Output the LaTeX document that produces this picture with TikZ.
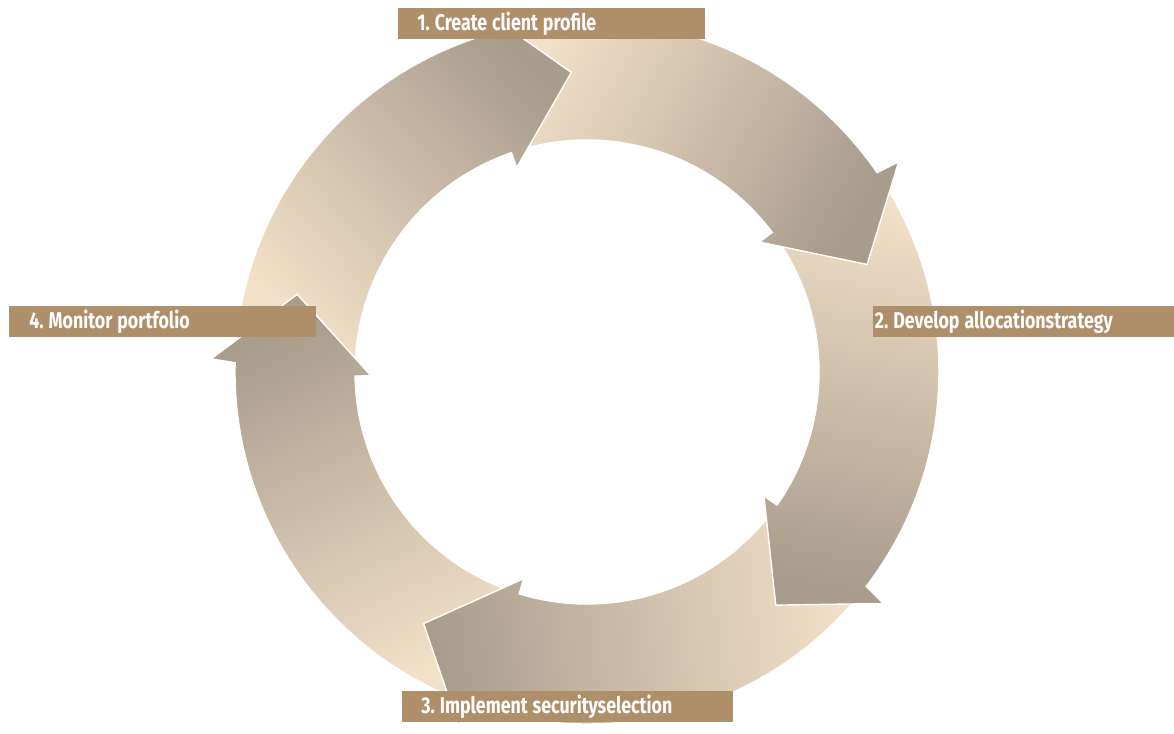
\documentclass[tikz,border=0pt]{standalone}
\usepackage{fontspec}
\usepackage{tikz}
\usetikzlibrary{calc}
\newfontfamily\labelfont{Fira Sans}[FakeStretch=0.78, Numbers=Proportional]
\newcommand{\lblfont}{\labelfont\bfseries\fontsize{13pt}{15pt}\selectfont\frenchspacing\fontdimen2\font=2.8pt\relax}
\definecolor{labelbrown}{HTML}{AF8F69}
\definecolor{arrowdark}{HTML}{A89C8C}
\definecolor{arrowlight}{HTML}{F2E1C8}
\tikzset{
	arrowpiece/.style={draw=white, line width=0.8pt, line join=miter, top color=arrowdark, bottom color=arrowlight},
	lbl/.style={fill=labelbrown, text=white, font=\lblfont, anchor=north west, minimum height=0.62cm, inner ysep=0pt, align=flush left}
}
\newcommand{\cyclearrow}[1]{%
	\pgfmathsetmacro\shadeang{#1-140}
	\path[arrowpiece, shading angle=\shadeang]
	(#1+83.5:352) arc[start angle=#1+83.5, end angle=#1+13.5, radius=352]
	-- (#1+13:376) -- (#1:300) -- (#1+16:216) -- (#1+16:232)
	arc[start angle=#1+16, end angle=#1+85.5, radius=232]
	-- (#1+78:300) -- cycle;}

\begin{document}
\begin{tikzpicture}[x=0.02cm, y=0.02cm]
\useasboundingbox (-587,-362) rectangle (587,372);
\coordinate (centre) at (0,0);
\foreach \t in {93,165,237,309,381}
	\cyclearrow{\t};
% top head goes over the last tail
\begin{scope}
	\clip (85:180) -- (85:430) -- (115:430) -- (115:180) -- cycle;
	\cyclearrow{93};
\end{scope}
\node[lbl, inner xsep=0.38cm, text width=5.38cm] (profile) at (-189,364) {1. Create client profile};
\node[lbl, inner xsep=0.03cm, text width=5.96cm] (strategy) at (286,66) {2. Develop allocationstrategy};
\node[lbl, inner xsep=0.38cm, text width=5.86cm] (selection) at (-185,-319) {3. Implement securityselection};
\node[lbl, inner xsep=0.40cm, text width=5.34cm] (monitor) at (-578,66) {4. Monitor portfolio};
\end{tikzpicture}
\end{document}
